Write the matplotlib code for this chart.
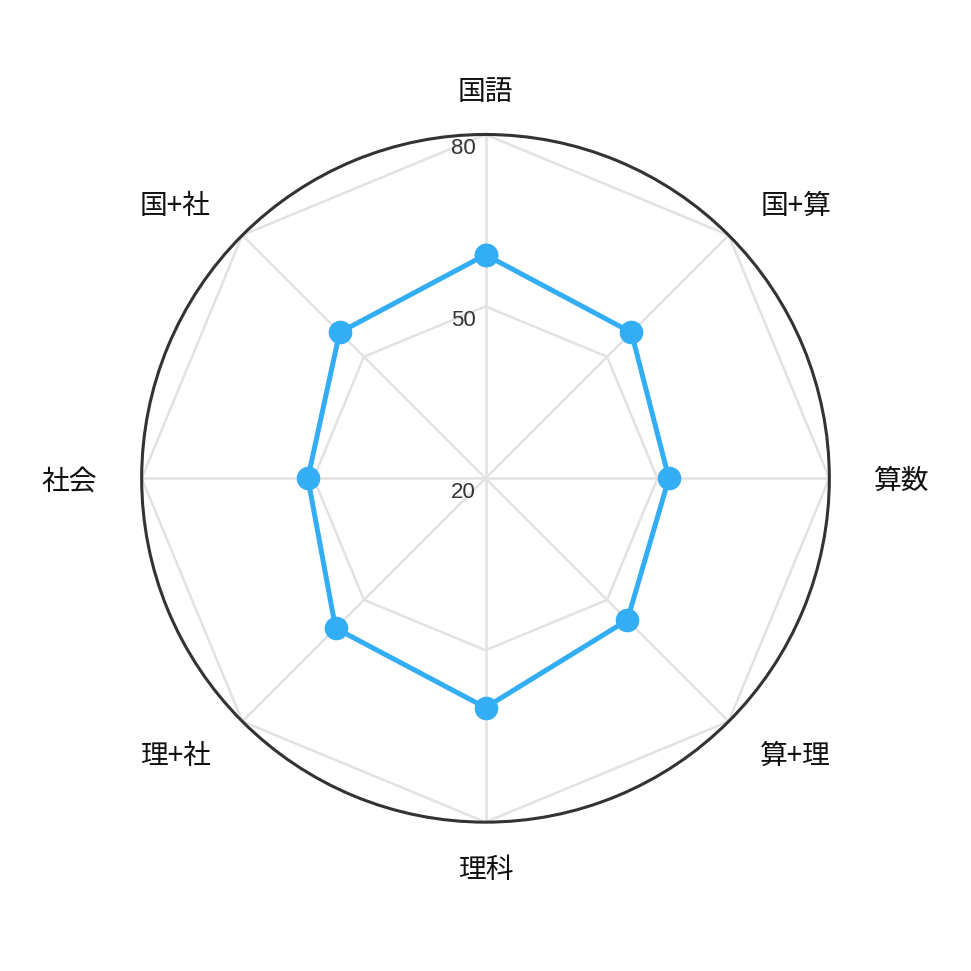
import numpy as np
import matplotlib
matplotlib.use("Agg")
import matplotlib.pyplot as plt

# subjects, clockwise from the top
subjects = ["国語", "国+算", "算数", "算+理", "理科", "理+社", "社会", "国+社"]
scores = [59, 56, 52, 55, 60, 57, 51, 56]
r_ticks = [20, 50, 80]

plt.rcParams['font.family'] = ['Noto Sans CJK JP', 'DejaVu Sans']

fig = plt.figure(figsize=(9.71, 9.71), dpi=100)
R = 0.3541
ax = fig.add_axes([0.5 - R, 0.5074 - R, 2 * R, 2 * R], projection='polar')
ax.set_theta_zero_location('N')
ax.set_theta_direction(-1)
ax.set_ylim(r_ticks[0], r_ticks[-1])
ax.grid(False)
ax.set_xticks([])
ax.set_yticks([])
ax.spines['polar'].set_color('#333333')
ax.spines['polar'].set_linewidth(2.2)

n = len(subjects)
theta = np.arange(n) * 2 * np.pi / n
theta_closed = np.append(theta, theta[0])

# polygon grid + spokes
grid_col = '#e2e2e2'
for t in theta:
    ax.plot([t, t], [r_ticks[0], r_ticks[-1]], color=grid_col, lw=1.8, zorder=1)
for v in r_ticks[1:]:
    ax.plot(theta_closed, [v] * (n + 1), color=grid_col, lw=1.8, zorder=1)

# data
vals = np.append(scores, scores[0])
ax.plot(theta_closed, vals, color='#33adf3', lw=3.6, zorder=3,
        marker='o', markersize=16, markerfacecolor='#33adf3', markeredgecolor='#33adf3')

# tick labels
for v in r_ticks:
    ax.annotate(str(v), xy=(0, v), xytext=(-10, -14), textcoords='offset pixels',
                ha='right', va='center', fontsize=16, color='#333333',
                family=['Liberation Sans', 'DejaVu Sans'], annotation_clip=False, zorder=4)

# subject labels
pad = 45
for t, s in zip(theta, subjects):
    sx, sy = np.sin(t), np.cos(t)
    if sx > 0.01:
        ha = 'left'
    elif sx < -0.01:
        ha = 'right'
    else:
        ha = 'center'
    ax.annotate(s, xy=(t, r_ticks[-1]), xytext=(pad * sx, pad * sy - 3), textcoords='offset pixels',
                ha=ha, va='center', fontsize=20, color='#111111', annotation_clip=False)

fig.savefig('out.png', dpi=100)
